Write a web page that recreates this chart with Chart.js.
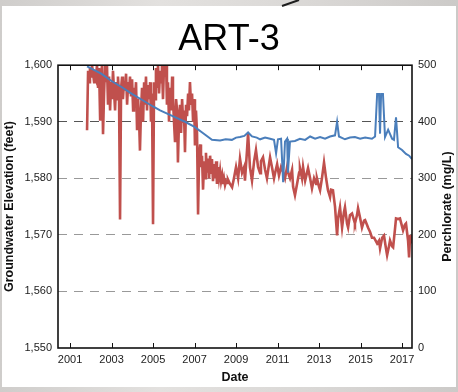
<!DOCTYPE html>
<html>
<head>
<meta charset="utf-8">
<script src="https://cdn.jsdelivr.net/npm/chart.js@4.4.0/dist/chart.umd.min.js"></script>
<style>
  html, body { margin: 0; padding: 0; }
  body {
    width: 458px; height: 392px; overflow: hidden; position: relative;
    background: linear-gradient(90deg, #cfcdcb 0%, #e3e1df 35%, #d9d7d5 70%, #cccac8 100%);
  }
  #panel { position: absolute; left: 2px; top: 6px; width: 454px; height: 381px; background: #fff; }
  #stroke { position: absolute; left: 0; top: 0; }
  #chart { position: absolute; left: 0; top: 0; }
</style>
</head>
<body>
<div id="panel"></div>
<svg id="stroke" width="458" height="10"><line x1="282" y1="6" x2="299" y2="0" stroke="#1e1e1e" stroke-width="2"/></svg>
<canvas id="chart" width="458" height="392"></canvas>
<script>
// Well ART-3: groundwater elevation (ft, left axis) and perchlorate (mg/L, right axis)

const dateTicks = [2001, 2003, 2005, 2007, 2009, 2011, 2013, 2015, 2017];
const elevationTicks = [1550, 1560, 1570, 1580, 1590, 1600];
const perchlorateTicks = [0, 100, 200, 300, 400, 500];

const elevationDates = [
  2001.82, 2002.5, 2003.0, 2003.5, 2004.0, 2004.5, 2005.0, 2005.34, 2006.0, 2006.54,
  2007.0, 2007.4, 2007.84, 2008.23, 2008.5, 2008.8, 2009.0, 2009.19, 2009.4, 2009.58,
  2009.77, 2010.0, 2010.16, 2010.4, 2010.64, 2010.83, 2010.93, 2011.02, 2011.17, 2011.27,
  2011.36, 2011.46, 2011.5, 2011.6, 2011.84, 2012.08, 2012.33, 2012.57, 2012.81, 2013.05,
  2013.29, 2013.53, 2013.77, 2013.87, 2013.96, 2014.25, 2014.49, 2014.73, 2014.98, 2015.22,
  2015.55, 2015.7, 2015.8, 2015.89, 2015.94, 2015.99, 2016.08, 2016.18, 2016.33, 2016.52,
  2016.61, 2016.71, 2016.81, 2017.0, 2017.19, 2017.34, 2017.48
];
const elevationFeet = [
  1599.8, 1598.5, 1597.2, 1596.1, 1594.9, 1593.8, 1592.7, 1592.0, 1590.9, 1590.0,
  1589.1, 1588.0, 1586.8, 1586.7, 1586.9, 1586.8, 1587.2, 1587.3, 1587.5, 1588.1,
  1587.4, 1587.2, 1586.9, 1587.2, 1587.0, 1586.8, 1584.4, 1586.9, 1587.0, 1579.3,
  1586.5, 1587.0, 1581.0, 1586.5, 1586.6, 1587.0, 1586.8, 1587.4, 1587.0, 1587.3,
  1587.0, 1587.4, 1587.6, 1590.0, 1587.4, 1586.9, 1587.2, 1587.3, 1587.0, 1587.2,
  1587.0, 1587.4, 1594.9, 1594.9, 1587.9, 1594.9, 1594.9, 1587.3, 1588.6, 1587.0,
  1586.8, 1590.8, 1585.5, 1585.0, 1584.3, 1584.0, 1583.4
];

const perchlorateDates = [
  2001.82, 2001.87, 2001.92, 2001.96, 2002.01, 2002.06, 2002.11, 2002.16, 2002.20, 2002.25,
  2002.30, 2002.35, 2002.40, 2002.45, 2002.49, 2002.54, 2002.59, 2002.64, 2002.69, 2002.73,
  2002.78, 2002.83, 2002.88, 2002.93, 2002.98, 2003.02, 2003.07, 2003.12, 2003.17, 2003.22,
  2003.27, 2003.31, 2003.36, 2003.41, 2003.46, 2003.51, 2003.55, 2003.60, 2003.65, 2003.70,
  2003.75, 2003.80, 2003.84, 2003.89, 2003.94, 2003.99, 2004.04, 2004.08, 2004.13, 2004.18,
  2004.23, 2004.28, 2004.33, 2004.37, 2004.42, 2004.47, 2004.52, 2004.57, 2004.61, 2004.66,
  2004.71, 2004.76, 2004.81, 2004.86, 2004.90, 2004.95, 2005.00, 2005.05, 2005.10, 2005.14,
  2005.19, 2005.24, 2005.29, 2005.34, 2005.39, 2005.43, 2005.48, 2005.53, 2005.58, 2005.63,
  2005.67, 2005.72, 2005.77, 2005.82, 2005.87, 2005.92, 2005.96, 2006.01, 2006.06, 2006.11,
  2006.16, 2006.20, 2006.25, 2006.30, 2006.35, 2006.40, 2006.45, 2006.49, 2006.54, 2006.59,
  2006.64, 2006.69, 2006.73, 2006.78, 2006.83, 2006.88, 2006.93, 2006.98, 2007.02, 2007.07,
  2007.12, 2007.17, 2007.22, 2007.27, 2007.31, 2007.36, 2007.41, 2007.46, 2007.51, 2007.55,
  2007.60, 2007.65, 2007.70, 2007.75, 2007.80, 2007.84, 2007.89, 2007.94, 2007.99, 2008.04,
  2008.08, 2008.13, 2008.18, 2008.23, 2008.28, 2008.33, 2008.37, 2008.42, 2008.47, 2008.52,
  2008.57, 2008.61, 2008.71, 2008.81, 2008.90, 2009.00, 2009.10, 2009.19, 2009.29, 2009.39,
  2009.43, 2009.53, 2009.58, 2009.67, 2009.77, 2009.87, 2009.96, 2010.06, 2010.16, 2010.20,
  2010.30, 2010.40, 2010.49, 2010.59, 2010.64, 2010.73, 2010.83, 2010.88, 2010.98, 2011.07,
  2011.17, 2011.27, 2011.36, 2011.46, 2011.55, 2011.60, 2011.70, 2011.75, 2011.84, 2011.94,
  2012.04, 2012.08, 2012.18, 2012.23, 2012.33, 2012.42, 2012.47, 2012.57, 2012.66, 2012.76,
  2012.86, 2012.90, 2013.00, 2013.05, 2013.14, 2013.24, 2013.34, 2013.43, 2013.53, 2013.58,
  2013.67, 2013.77, 2013.87, 2013.92, 2014.01, 2014.11, 2014.20, 2014.25, 2014.35, 2014.40,
  2014.49, 2014.59, 2014.69, 2014.73, 2014.83, 2014.88, 2014.98, 2015.07, 2015.17, 2015.22,
  2015.31, 2015.36, 2015.46, 2015.55, 2015.65, 2015.80, 2015.89, 2015.94, 2016.04, 2016.13,
  2016.23, 2016.28, 2016.37, 2016.42, 2016.52, 2016.57, 2016.66, 2016.71, 2016.81, 2016.90,
  2017.00, 2017.05, 2017.14, 2017.19, 2017.29, 2017.34, 2017.39, 2017.43
];
const perchlorateMgL = [
  385, 490, 470, 495, 478, 500, 485, 470, 490, 480,
  500, 460, 495, 404, 470, 500, 378, 450, 500, 470,
  500, 430, 480, 420, 470, 440, 490, 455, 420, 470,
  440, 480, 450, 227, 460, 480, 440, 470, 455, 485,
  430, 470, 450, 480, 445, 475, 420, 460, 440, 470,
  385, 440, 400, 349, 420, 460, 400, 470, 430, 480,
  420, 465, 440, 470, 400, 450, 219, 470, 440, 495,
  460, 500, 450, 490, 470, 500, 440, 500, 480, 500,
  430, 470, 400, 460, 420, 480, 440, 400, 364, 440,
  420, 328, 400, 430, 380, 440, 400, 420, 346, 430,
  410, 450, 420, 470, 430, 450, 400, 440, 358, 420,
  380, 236, 340, 360, 320, 340, 280, 330, 300, 345,
  310, 335, 300, 340, 310, 334, 295, 325, 300, 330,
  290, 320, 300, 314, 295, 305, 290, 300, 288, 295,
  292, 298, 290, 284, 300, 320, 300, 335, 310, 320,
  296, 350, 380, 320, 296, 330, 350, 320, 309, 330,
  337, 315, 300, 325, 337, 320, 300, 309, 325, 305,
  320, 311, 300, 320, 305, 300, 315, 285, 270, 290,
  310, 318, 300, 320, 296, 310, 318, 300, 282, 300,
  290, 300, 285, 279, 300, 328, 300, 279, 267, 280,
  279, 250, 199, 230, 249, 213, 240, 249, 220, 213,
  235, 238, 225, 220, 235, 247, 230, 213, 225, 226,
  218, 213, 205, 195, 195, 185, 190, 176, 195, 199,
  175, 164, 180, 190, 180, 178, 210, 229, 228, 229,
  215, 208, 218, 220, 190, 160, 200, 185
];

const FONT = '"Liberation Sans", Arial, Helvetica, sans-serif';
const toPoints = (xs, ys) => xs.map((x, i) => ({ x, y: ys[i] }));
const fixedTicks = list => scale => { scale.ticks = list.map(v => ({ value: v })); };

// Frame, inward tick marks and the right-hand axis title
const framePlugin = {
  id: 'frame',
  afterDatasetsDraw(chart) {
    const { ctx, chartArea: a, scales } = chart;
    ctx.save();
    ctx.strokeStyle = '#111';
    ctx.lineWidth = 1;
    ctx.beginPath();
    dateTicks.forEach(v => {
      const px = Math.round(scales.x.getPixelForValue(v)) + 0.5;
      ctx.moveTo(px, a.bottom); ctx.lineTo(px, a.bottom - 5);
      ctx.moveTo(px, a.top); ctx.lineTo(px, a.top + 5);
    });
    ctx.stroke();
    ctx.lineWidth = 1.6;
    ctx.strokeRect(a.left, a.top, a.right - a.left, a.bottom - a.top);
    ctx.restore();
  },
  afterDraw(chart) {
    const { ctx, chartArea: a } = chart;
    ctx.save();
    ctx.font = 'bold 12.5px ' + FONT;
    ctx.fillStyle = '#111';
    ctx.textAlign = 'center';
    ctx.textBaseline = 'middle';
    ctx.translate(448, (a.top + a.bottom) / 2);
    ctx.rotate(-Math.PI / 2);
    ctx.fillText('Perchlorate (mg/L)', 0, 0);
    ctx.restore();
  }
};

new Chart(document.getElementById('chart'), {
  type: 'line',
  data: {
    datasets: [
      {
        label: 'Groundwater Elevation',
        data: toPoints(elevationDates, elevationFeet),
        yAxisID: 'y',
        borderColor: '#4a7ebb',
        borderWidth: 2,
        pointRadius: 0,
        order: 0
      },
      {
        label: 'Perchlorate',
        data: toPoints(perchlorateDates, perchlorateMgL),
        yAxisID: 'y2',
        borderColor: '#c0504d',
        borderWidth: 2.6,
        pointRadius: 0,
        order: 1
      }
    ]
  },
  options: {
    responsive: false,
    animation: false,
    layout: { padding: 0 },
    plugins: {
      legend: { display: false },
      tooltip: { enabled: false },
      title: {
        display: true,
        text: 'ART-3',
        color: '#000',
        font: { family: FONT, size: 36, weight: 'normal' },
        padding: { top: 18, bottom: 4 }
      }
    },
    scales: {
      x: {
        type: 'linear',
        min: 2000.42,
        max: 2017.48,
        afterBuildTicks: fixedTicks(dateTicks),
        afterFit: s => { s.height = 44; },
        grid: { display: false, drawTicks: false },
        border: { display: false },
        ticks: {
          autoSkip: false, maxRotation: 0, padding: 5, color: '#222',
          font: { family: FONT, size: 11 },
          callback: v => String(v)
        },
        title: {
          display: true, text: 'Date', color: '#111',
          font: { family: FONT, size: 12.5, weight: 'bold' },
          padding: { top: 0, bottom: 7 }
        }
      },
      y: {
        position: 'left',
        min: 1550,
        max: 1600,
        afterBuildTicks: fixedTicks(elevationTicks),
        afterFit: s => { s.width = 58; },
        grid: {
          drawTicks: false,
          lineWidth: 1,
          color: c => {
            const v = c.tick && c.tick.value;
            if (v === 1550 || v === 1600) return 'rgba(0,0,0,0)';
            return v === 1590 ? '#555' : '#999';
          }
        },
        border: { display: false, dash: [9, 7] },
        ticks: {
          padding: 6, color: '#222',
          font: { family: FONT, size: 11 },
          callback: v => v.toLocaleString('en-US')
        },
        title: {
          display: true, text: 'Groundwater Elevation (feet)', color: '#111',
          font: { family: FONT, size: 12.5, weight: 'bold' },
          padding: { top: 2, bottom: 0 }
        }
      },
      y2: {
        position: 'right',
        min: 0,
        max: 500,
        afterBuildTicks: fixedTicks(perchlorateTicks),
        afterFit: s => { s.width = 46; },
        grid: { display: false, drawTicks: false },
        border: { display: false },
        ticks: {
          padding: 6, color: '#222',
          font: { family: FONT, size: 11 }
        }
      }
    }
  },
  plugins: [framePlugin]
});
</script>
</body>
</html>
